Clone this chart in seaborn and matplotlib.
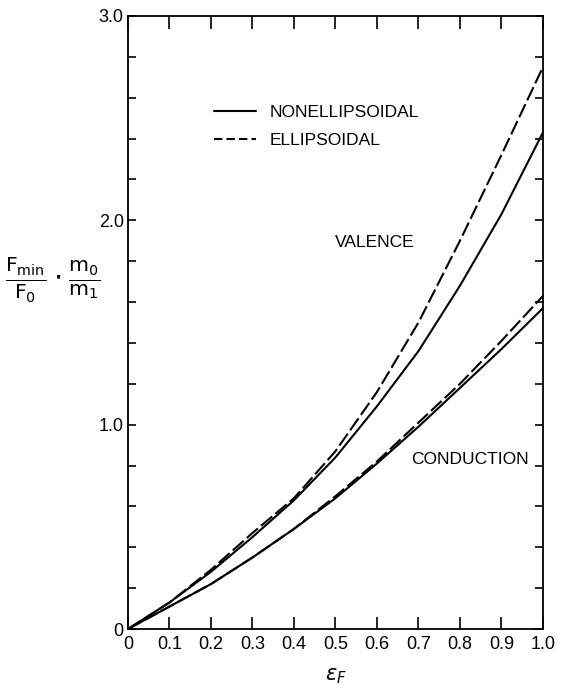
import numpy as np
import pandas as pd
import seaborn as sns
import matplotlib.pyplot as plt
from matplotlib.lines import Line2D

# values
eps_f = [0.0, 0.1, 0.2, 0.3, 0.4, 0.5, 0.6, 0.7, 0.8, 0.9, 1.0]
valence_ellip = [0.0, 0.13, 0.29, 0.47, 0.64, 0.87, 1.16, 1.50, 1.90, 2.32, 2.75]
valence_nonellip = [0.0, 0.13, 0.28, 0.45, 0.63, 0.84, 1.09, 1.36, 1.68, 2.03, 2.43]
conduction_ellip = [0.0, 0.11, 0.22, 0.35, 0.49, 0.65, 0.82, 1.01, 1.20, 1.41, 1.63]
conduction_nonellip = [0.0, 0.11, 0.22, 0.35, 0.49, 0.64, 0.81, 0.99, 1.18, 1.37, 1.57]

x_ticks = [0.0, 0.1, 0.2, 0.3, 0.4, 0.5, 0.6, 0.7, 0.8, 0.9, 1.0]
x_labels = ["0", "0.1", "0.2", "0.3", "0.4", "0.5", "0.6", "0.7", "0.8", "0.9", "1.0"]
y_major = [0, 1, 2, 3]
y_labels = ["0", "1.0", "2.0", "3.0"]

sns.set_style("ticks")
plt.rcParams['font.family'] = ['Liberation Sans', 'DejaVu Sans']
plt.rcParams['mathtext.fontset'] = 'dejavusans'
for k in ['text.color', 'axes.labelcolor', 'xtick.color', 'ytick.color', 'axes.edgecolor']:
    plt.rcParams[k] = 'black'

fig = plt.figure(figsize=(5.65, 6.92), dpi=100)
ax = fig.add_axes([0.2265, 0.091, 0.7345, 0.886])

lw = 1.5
dash = (7, 2)
sns.lineplot(x=eps_f, y=valence_ellip, ax=ax, color='black', lw=lw)
sns.lineplot(x=eps_f, y=valence_nonellip, ax=ax, color='black', lw=lw)
sns.lineplot(x=eps_f, y=conduction_ellip, ax=ax, color='black', lw=lw)
sns.lineplot(x=eps_f, y=conduction_nonellip, ax=ax, color='black', lw=lw)
ax.lines[0].set_dashes(dash)
ax.lines[2].set_dashes(dash)

ax.set_xlim(0, 1.0)
ax.set_ylim(0, 3.0)
ax.set_xticks(x_ticks)
ax.set_xticklabels(x_labels)
ax.set_yticks(y_major)
ax.set_yticklabels(y_labels)
ax.set_yticks(np.arange(0, 3.01, 0.2), minor=True)

ax.tick_params(axis='x', which='both', direction='in', top=True, length=9, width=1.2,
               labelsize=13, pad=5)
ax.tick_params(axis='y', which='both', direction='in', right=True, length=6, width=1.2,
               labelsize=13, pad=3)
for s in ax.spines.values():
    s.set_linewidth(1.3)

ax.set_xlabel(r'$\epsilon_F$', fontsize=15, labelpad=10)
fig.text(0.008, 0.595,
         r'$\frac{\mathrm{F_{min}}}{\mathrm{F_0}}\cdot\frac{\mathrm{m_0}}{\mathrm{m_1}}$',
         fontsize=21, ha='left', va='center')

ax.text(0.595, 1.89, 'VALENCE', fontsize=12.5, ha='center', va='center')
ax.text(0.824, 0.83, 'CONDUCTION', fontsize=12.5, ha='center', va='center')

handles = [Line2D([], [], color='black', lw=lw),
           Line2D([], [], color='black', lw=lw, dashes=(4, 2))]
ax.legend(handles, ['NONELLIPSOIDAL', 'ELLIPSOIDAL'], loc='upper left',
          bbox_to_anchor=(0.17, 0.88), frameon=False, fontsize=12.5,
          handlelength=2.4, handletextpad=0.8, labelspacing=0.75)

fig.savefig('out.png', dpi=100)
